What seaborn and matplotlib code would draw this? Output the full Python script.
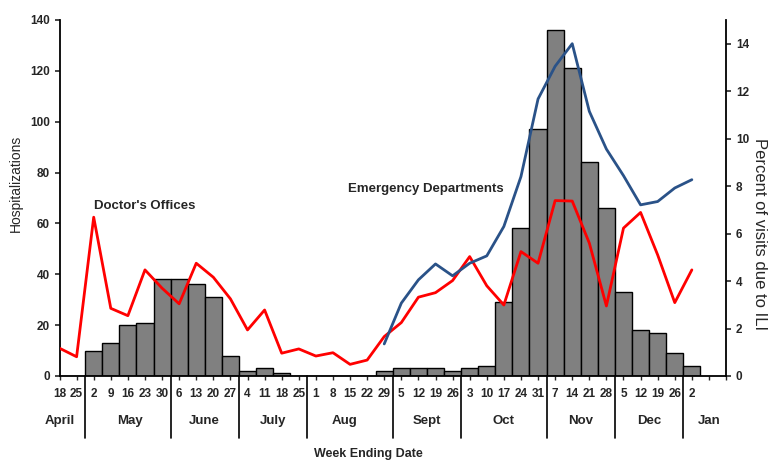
import matplotlib
matplotlib.use("Agg")
import matplotlib.pyplot as plt
import seaborn as sns
import pandas as pd

weeks = ["18", "25", "2", "9", "16", "23", "30", "6", "13", "20", "27",
         "4", "11", "18", "25", "1", "8", "15", "22", "29", "5", "12", "19", "26",
         "3", "10", "17", "24", "31", "7", "14", "21", "28", "5", "12", "19", "26", "2"]

hospitalizations = [0, 0, 10, 13, 20, 21, 38, 38, 36, 31, 8,
                    2, 3, 1, 0, 0, 0, 0, 0, 2, 3, 3, 3, 2,
                    3, 4, 29, 58, 97, 136, 121, 84, 66, 33, 18, 17, 9, 4]

doctors_offices = [1.17, 0.81, 6.69, 2.85, 2.54, 4.47, 3.70, 3.04, 4.75, 4.16, 3.25,
                   1.94, 2.78, 0.96, 1.14, 0.84, 0.98, 0.49, 0.67, 1.66, 2.25, 3.32, 3.51, 4.02,
                   5.03, 3.80, 2.99, 5.24, 4.75, 7.39, 7.37, 5.60, 2.95, 6.23, 6.89, 5.10, 3.09, 4.47]

# emergency departments start reporting at Aug 29 (week index 19)
ed_start = 19
emergency_depts = [1.35, 3.07, 4.05, 4.72, 4.22, 4.75, 5.06, 6.30, 8.40, 11.67,
                   13.05, 14.0, 11.15, 9.56, 8.44, 7.21, 7.35, 7.92, 8.27]

months = ["April", "May", "June", "July", "Aug", "Sept", "Oct", "Nov", "Dec", "Jan"]
month_centers = [0, 4.1, 8.5, 12.5, 16.7, 21.5, 26, 30.5, 34.5, 38]
month_breaks = [1.5, 6.5, 10.5, 14.5, 19.5, 23.5, 28.5, 32.5, 36.5]

idx = list(range(len(weeks)))
df = pd.DataFrame({"idx": idx, "hosp": hospitalizations, "doc": doctors_offices})
df_ed = pd.DataFrame({"idx": idx[ed_start:], "ed": emergency_depts})

sns.set_style("white")
plt.rcParams["font.family"] = ["Liberation Sans", "DejaVu Sans"]
plt.rcParams["font.weight"] = "bold"

fig = plt.figure(figsize=(7.7, 4.62), dpi=100)
ax = fig.add_axes([0.0773, 0.1862, 0.8656, 0.7706])

sns.barplot(data=df, x="idx", y="hosp", native_scale=True, width=1, color="#808080",
            saturation=1, edgecolor="black", linewidth=1.0, errorbar=None, ax=ax)
ax.set_xlim(0, 39)
ax.set_ylim(0, 140)
ax.set_yticks(range(0, 141, 20))
ax.set_xticks(range(40))
ax.set_xticklabels(weeks + ["", ""], fontsize=8.5, fontweight="bold")
ax.tick_params(axis="x", length=3, width=1, pad=6, direction="out", bottom=True)
ax.tick_params(axis="y", length=3.5, width=1.2, labelsize=8.5, left=True, direction="out")
ax.set_xlabel("")
ax.set_ylabel("Hospitalizations", fontsize=10, fontweight="normal")
ax.yaxis.set_label_coords(-0.055, 0.54)
for s in ["top", "right"]:
    ax.spines[s].set_visible(False)
for s in ["left", "bottom"]:
    ax.spines[s].set_linewidth(1.3)
    ax.spines[s].set_color("black")

ax2 = ax.twinx()
sns.lineplot(data=df, x="idx", y="doc", color="#FF0000", linewidth=2, ax=ax2)
sns.lineplot(data=df_ed, x="idx", y="ed", color="#2A5288", linewidth=2, ax=ax2)
ax2.set_ylim(0, 15)
ax2.set_yticks(range(0, 15, 2))
ax2.tick_params(axis="y", length=3.5, width=1.2, labelsize=8.5, right=True, direction="out")
ax2.set_xlabel("")
ax2.set_ylabel("Percent of visits due to ILI", fontsize=12, fontweight="normal",
               rotation=270)
ax2.yaxis.set_label_coords(1.062, 0.40)
for s in ["top", "left", "bottom"]:
    ax2.spines[s].set_visible(False)
ax2.spines["right"].set_linewidth(1.3)
ax2.spines["right"].set_color("black")
for lbl in ax.get_yticklabels() + ax2.get_yticklabels():
    lbl.set_fontweight("bold")

trans = ax.get_xaxis_transform()
for xb in month_breaks:
    ax.plot([xb, xb], [0, -0.174], transform=trans, color="black", lw=1.2, clip_on=False)
for name, xc in zip(months, month_centers):
    ax.text(xc, -0.126, name, transform=trans, ha="center", va="center",
            fontsize=9.5, fontweight="bold")

ax.text(2.0, 67, "Doctor's Offices", fontsize=9.5, fontweight="bold", va="center", ha="left")
ax.text(16.9, 73.5, "Emergency Departments", fontsize=9.5, fontweight="bold", va="center", ha="left")

fig.text(368 / 770, 1 - 454 / 462, "Week Ending Date", ha="center", va="center",
         fontsize=9, fontweight="bold")

fig.savefig("out.png", dpi=100, facecolor="white")
